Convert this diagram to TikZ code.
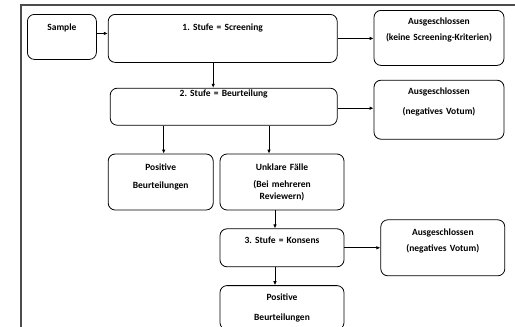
\documentclass[tikz,border=0pt]{standalone}
\usepackage{fontspec}
\setmainfont{Carlito}
\usetikzlibrary{arrows.meta,positioning,calc}
\frenchspacing

\begin{document}
\begin{tikzpicture}[%
    x=1pt, y=1pt,
    >={Latex[length=4pt,width=3.6pt]}, % small filled tips
    font=\fontsize{9.5}{17}\selectfont\bfseries,
    ]
% -------------------------------------------------
% box styles: width, height, distance top -> first baseline
\tikzset{
  box/.style n args={3}{draw, rounded corners=7pt, line width=0.8pt,
    inner sep=0pt, align=center, anchor=north west,
    text width=#1, text height=#3, text depth=#2-#3},
  arr/.style={->, line width=1pt},
  frame/.style={draw=black!70, line width=1.4pt}
}
\useasboundingbox (0,0) rectangle (515,-327);
\draw[frame] (21,-327) -- (21,-5) -- (515,-5);
% -------------------------------------------------
% first row
\node [box={69pt}{45pt}{16pt}] (sample) at (27,-14) {Sample};
\node [box={229pt}{48pt}{16pt}, below right=0pt and 11pt of sample.north east, anchor=north west] (s1) {1. Stufe = Screening};
\node [box={130pt}{55pt}{14pt}] (aus1) at ([xshift=36pt,yshift=4pt]s1.north east) {Ausgeschlossen\\[-1pt](keine Screening-Kriterien)};
% second row
\node [box={227pt}{37pt}{8.5pt}] (s2) at ([xshift=2pt,yshift=-25pt]s1.south west) {2. Stufe = Beurteilung};
\node [box={130pt}{59pt}{14pt}, below=14pt of aus1.south west, anchor=north west] (aus2) {Ausgeschlossen\\[3pt](negatives Votum)};
% third row
\node [box={105pt}{56pt}{16pt}] (pos1) at ([xshift=-2pt,yshift=-28pt]s2.south west) {Positive\\[1pt]Beurteilungen};
\node [box={124pt}{56pt}{16pt}, right=6pt of pos1.north east, anchor=north west] (unk) {Unklare Fälle\\[0pt](Bei mehreren\\[-5pt]Reviewern)};
% fourth row
\node [box={124pt}{38pt}{15pt}, below=18pt of unk.south west, anchor=north west] (s3) {3. Stufe = Konsens};
\node [box={124pt}{56pt}{16pt}] (aus3) at ([xshift=36pt,yshift=9pt]s3.north east) {Ausgeschlossen\\[-1pt](negatives Votum)};
\node [box={124pt}{44pt}{15pt}, below=18pt of s3.south west, anchor=north west] (pos2) {Positive\\[3pt]Beurteilungen};

% -------------------------------------------------
% connectors
\draw[arr] ([yshift=3.5pt]sample.east) -- ([yshift=3.5pt]sample.east -| s1.west);
\draw[arr] (s1.east) -- (s1.east -| aus1.west);
\draw[arr] ([xshift=-9.5pt]s1.south) -- ([xshift=-9.5pt]s1.south |- s2.north);
\draw[arr] ([yshift=-1.5pt]s2.east) -- ([yshift=-1.5pt]s2.east -| aus2.west);
\draw[arr] ([xshift=3pt]pos1.north |- s2.south) -- ([xshift=3pt]pos1.north);
\draw[arr] ([xshift=-13pt]unk.north |- s2.south) -- ([xshift=-13pt]unk.north);
\draw[arr] ([xshift=-7pt]unk.south) -- ([xshift=-7pt]s3.north);
\draw[arr] (s3.east) -- (s3.east -| aus3.west);
\draw[arr] ([xshift=-7pt]s3.south) -- ([xshift=-7pt]pos2.north);
% -------------------------------------------------
\end{tikzpicture}
\end{document}
